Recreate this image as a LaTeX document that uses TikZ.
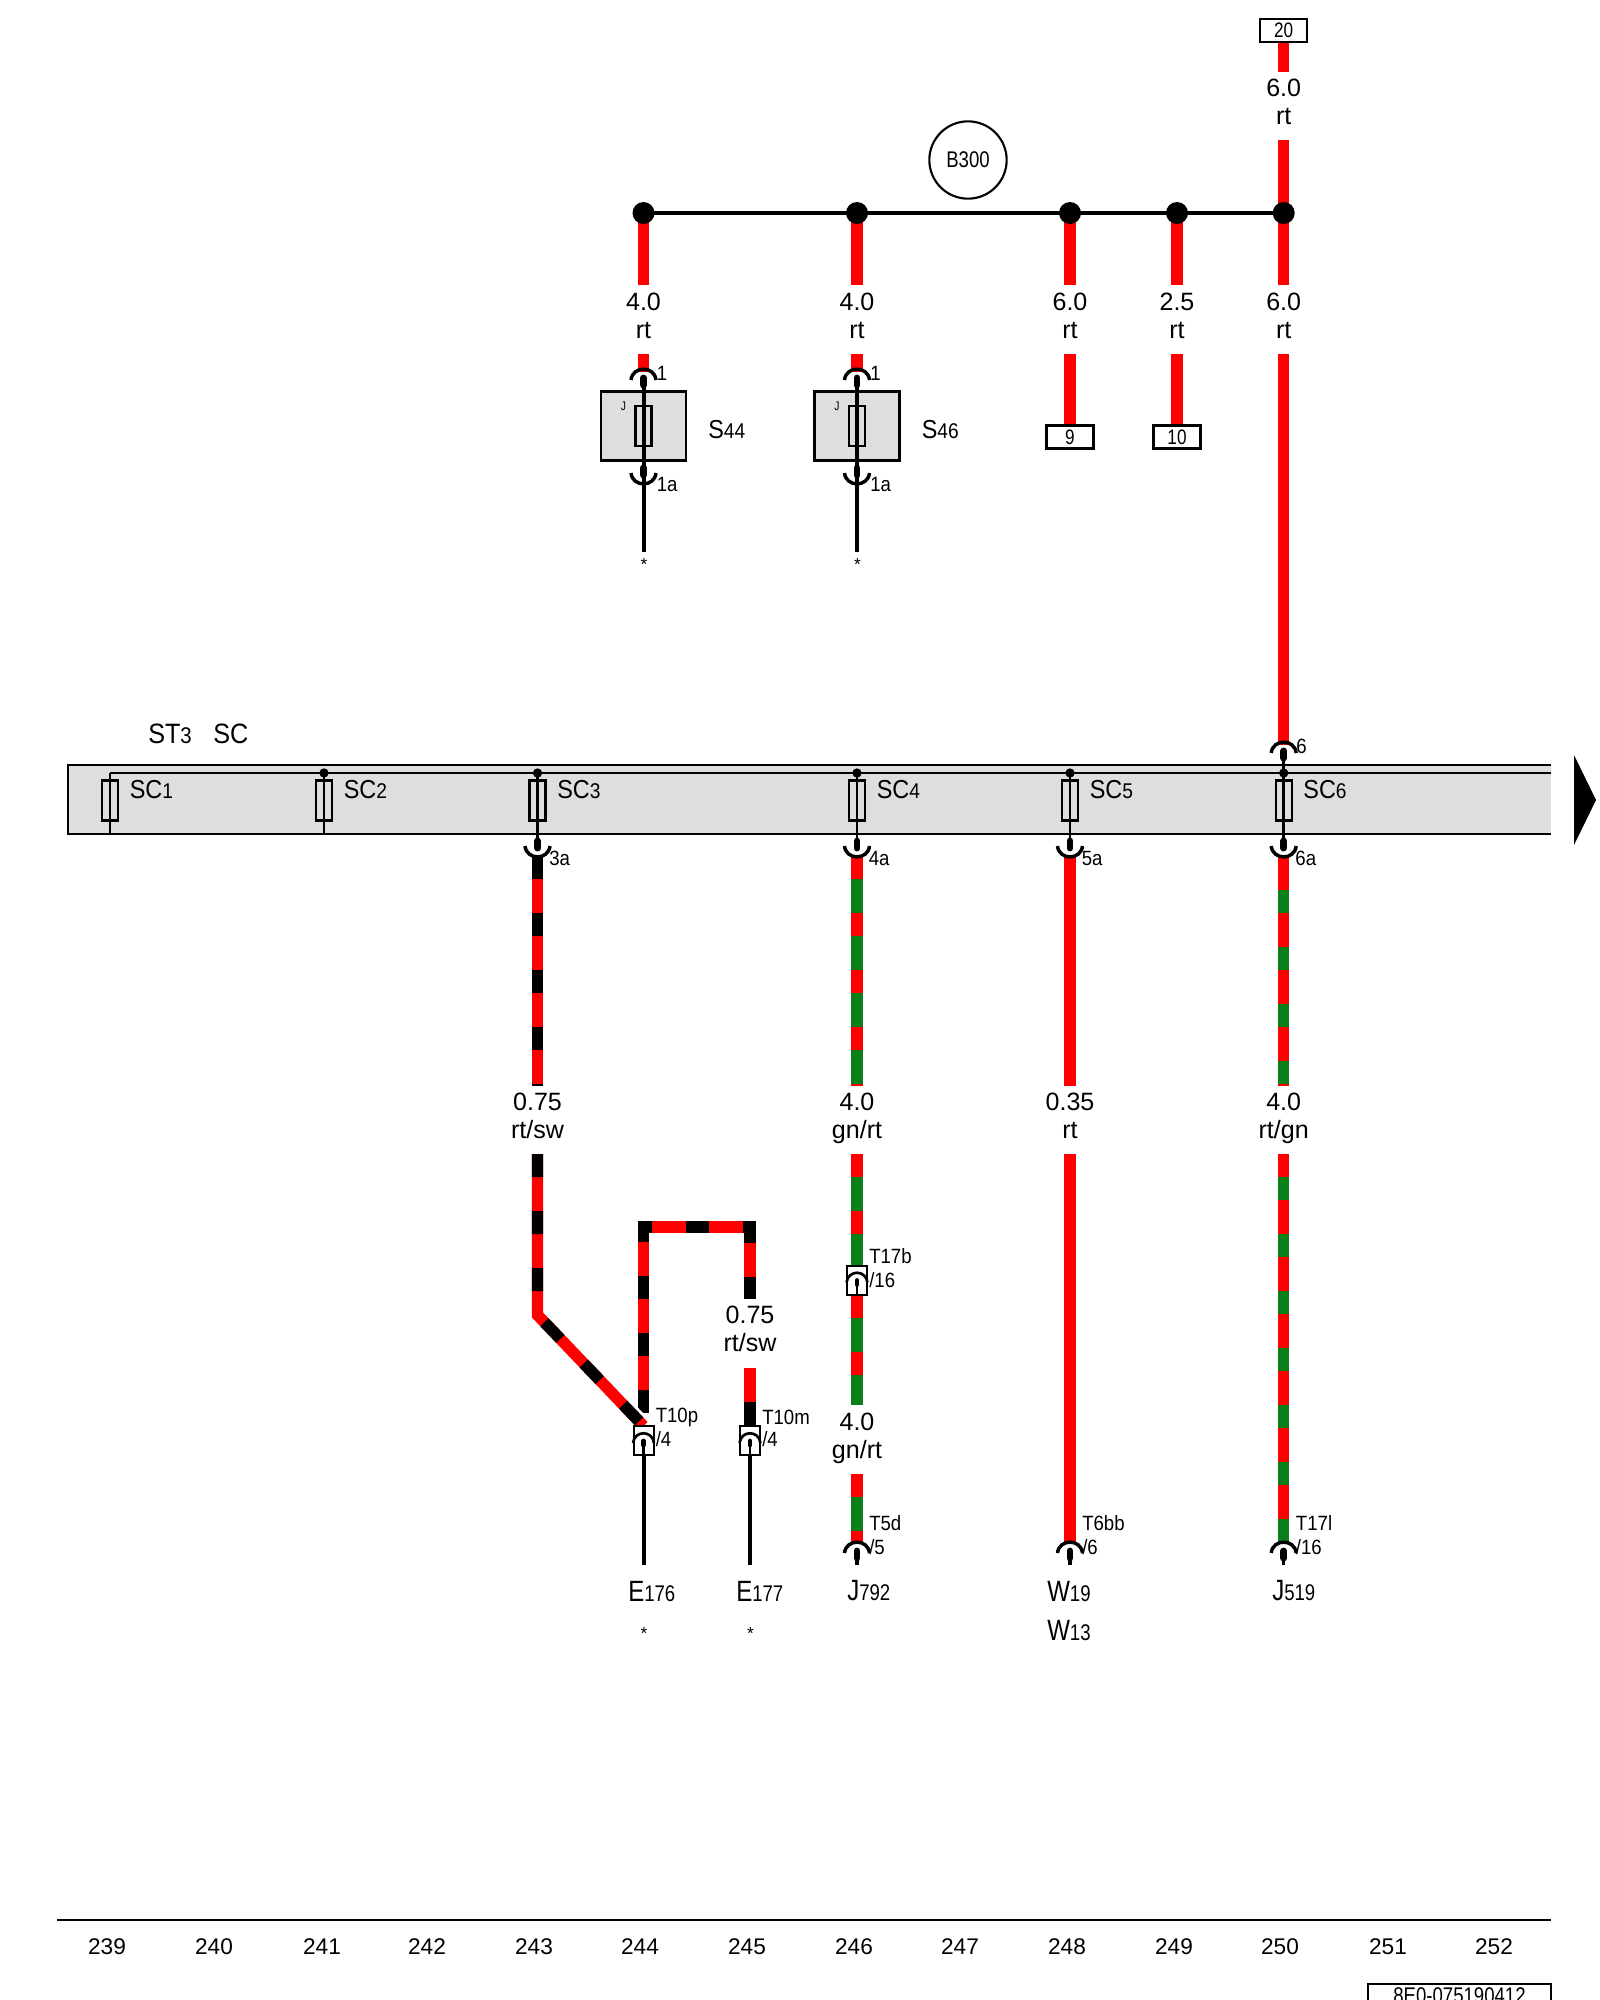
\documentclass[tikz,border=0pt]{standalone}
\usepackage{fontspec}
\usetikzlibrary{calc}
\setmainfont{Liberation Sans}
\newfontfamily\nar[FakeStretch=0.82]{Liberation Sans}
\newfontfamily\narb[FakeStretch=0.9]{Liberation Sans}
\newcommand{\code}[2]{{\narb\fontsize{19.5}{21}\selectfont #1\fontsize{16}{18}\selectfont #2}}
\newcommand{\topcode}[2]{{\narb\fontsize{21}{23}\selectfont #1\fontsize{17}{19}\selectfont #2}}
\newcommand{\bigcode}[2]{{\nar\fontsize{22}{24}\selectfont #1\fontsize{17}{19}\selectfont #2}}
\definecolor{bargray}{HTML}{DEDEDE}
\definecolor{wgreen}{HTML}{0A801A}
\definecolor{wred}{HTML}{FF0000}
\tikzset{
  thick wire/.style={line width=8.6pt},
  redw/.style={thick wire,draw=wred},
  greenw/.style={thick wire,draw=wgreen},
  stripe/.style={thick wire,dash pattern=on 17.25pt off 25.5pt},
  thinw/.style={line width=3pt,draw=black},
  gauge/.style={anchor=base,inner sep=0pt,font=\fontsize{18.8}{20}\selectfont},
  small/.style={anchor=west,inner sep=0pt,font=\narb\fontsize{15.5}{17}\selectfont},
  name lab/.style={anchor=west,inner sep=0pt},
  star/.style={inner sep=0pt,font=\fontsize{13}{14}\selectfont},
  fuse/.style={draw,line width=1.7pt,minimum width=12pt,minimum height=30pt,inner sep=0pt},
  term/.style={draw,line width=1.7pt,fill=white,minimum width=35.25pt,minimum height=17.25pt,inner sep=0pt,font=\nar\fontsize{15.7}{17}\selectfont},
  tbox/.style={draw,line width=1.5pt,fill=white,minimum width=15pt,minimum height=21.75pt,inner sep=0pt},
  sbox/.style={draw,line width=1.7pt,fill=bargray,minimum width=63.75pt,minimum height=51.75pt,inner sep=0pt},
  joint/.style={circle,fill=black,minimum size=16.5pt,inner sep=0pt},
  smalljoint/.style={circle,fill=black,minimum size=7pt,inner sep=0pt},
  plugup/.pic={
    \draw[line width=2.6pt] (-12.5,11) .. controls (-11,-3.5) and (11,-3.5) .. (12.5,11);
    \draw[line width=5.2pt,line cap=round] (0,9) -- (0,16);
  },
  plugdown/.pic={
    \draw[line width=2.6pt] (-12.5,-11) .. controls (-11,3.5) and (11,3.5) .. (12.5,-11);
    \draw[line width=5.2pt,line cap=round] (0,-9) -- (0,-16);
  },
  pluginner/.pic={
    \draw[line width=2pt] (-10.5,10) .. controls (-9,-3) and (9,-3) .. (10.5,10);
    \draw[line width=3.6pt,line cap=round] (0,8) -- (0,12);
  }
}
\begin{document}
\begin{tikzpicture}[x=0.75pt,y=-0.75pt]
\useasboundingbox (0,0) rectangle (1600,2000);
\clip (0,0) rectangle (1600,2000);
% ---- bar
\node[fill=bargray,minimum width=1112.25pt,minimum height=51.75pt,inner sep=0pt] (bar) at (809.5,799.5) {};
\draw[line width=1.6pt] (bar.north east) -- (bar.north west) -- (bar.south west) -- (bar.south east);
\coordinate (railL) at (110,773);
\coordinate (railR) at (1551,773);
\draw[line width=2pt] (railR) -- (railL);
\node[anchor=base west,inner sep=0pt] (st) at (148,743) {\topcode{ST}{3}};
\node[anchor=base west,inner sep=0pt] (sc) at (213,743) {\topcode{SC}{}};
% ---- thick wires, upper part
\coordinate (t20) at (1283.7,42);
\coordinate (t20b) at (1283.7,72);
\coordinate (t20c) at (1283.7,140);
\coordinate (bus1) at (643.5,213); \coordinate (bus2) at (857,213); \coordinate (bus3) at (1070,213);
\coordinate (bus4) at (1177,213); \coordinate (bus5) at (1283.7,213);
\draw[redw] (t20) -- (t20b);
\draw[redw] (t20c) -- (bus5);
\foreach \n/\x in {1/643.5,2/857,3/1070,4/1177,5/1283.7}{
  \coordinate (dn\n) at (\x,285);
  \draw[redw] (bus\n) -- (dn\n);
}
\coordinate (up1) at (643.5,354); \coordinate (up1b) at (643.5,372);
\coordinate (up2) at (857,354); \coordinate (up2b) at (857,372);
\coordinate (up3) at (1070,354); \coordinate (up3b) at (1070,425);
\coordinate (up4) at (1177,354); \coordinate (up4b) at (1177,425);
\coordinate (up5) at (1283.7,354); \coordinate (up5b) at (1283.7,745);
\foreach \n in {1,...,5}{\draw[redw] (up\n) -- (up\n b);}
\draw[line width=2.6pt] (bus1) -- (bus5);
\foreach \n in {1,...,5}{\node[joint] (j\n) at (bus\n) {};}
\node[draw,circle,line width=1.6pt,minimum size=58pt,inner sep=0pt,font=\nar\fontsize{17}{19}\selectfont] (b300) at (968,160) {B300};
\node[term] (tw) at (1283.7,30.5) {20};
\node[term] (tn) at (1070,437) {9};
\node[term] (tt) at (1177,437) {10};
% ---- fuses S44, S46
\foreach \x/\a/\b/\lab in {643.5/1/S/44,857/2/S/46}{
  \node[sbox] (sb\a) at (\x,426) {};
  \node[fuse,minimum height=30pt] (sf\a) at (\x,426) {};
  \coordinate (sin\a) at (\x,387);
  \coordinate (sout\a) at (\x,552);
  \draw[thinw] (sin\a) -- (sout\a);
  \pic at (\x,369) {plugup};
  \pic at (\x,484) {plugdown};
  \node[small] (pa\a) at (\x+13,373) {1};
  \node[small] (pb\a) at (\x+13,484) {1a};
  \node[name lab,inner sep=0pt,font=\nar\fontsize{9.4}{10}\selectfont] (jj\a) at (\x-23,406) {J};
  \node[star] (st\a) at (\x+0.5,565) {*};
  \node[name lab] (sl\a) at (\x+64.5,430) {\code{\b}{\lab}};
}
% ---- SC fuses
\foreach \n/\x in {1/110,2/324,3/537.5,4/857,5/1070,6/1283.7}{
  \node[fuse,fill=none] (f\n) at (\x,800.5) {};
  \coordinate (fa\n) at (\x,773);
  \coordinate (fb\n) at (\x,834);
  \draw[line width=2pt] (fa\n) -- (fb\n);
  \node[name lab] (fl\n) at (\x+19.5,790) {\code{SC}{\n}};
}
\foreach \n in {2,...,6}{\node[smalljoint] (d\n) at (fa\n) {};}
\coordinate (p6) at (1283.7,757);
\draw[line width=2pt] (p6) -- (fa6);
\foreach \n in {3,...,6}{\draw[line width=2pt] (fb\n) -- ++(0,8);}
% ---- columns below bar, upper stretch
\coordinate (a3) at (537.5,856); \coordinate (a3e) at (537.5,1086);
\coordinate (a4) at (857,856);   \coordinate (a4e) at (857,1086);
\coordinate (a5) at (1070,856);  \coordinate (a5e) at (1070,1086);
\coordinate (a6) at (1283.7,856);\coordinate (a6e) at (1283.7,1086);
\draw[redw] (a3) -- (a3e);
\draw[stripe,draw=black] (a3) -- (a3e);
\draw[greenw] (a4) -- (a4e);
\draw[stripe,draw=wred] (a4) -- (a4e);
\draw[redw] (a5) -- (a5e);
\draw[redw] (a6) -- (a6e);
\draw[stripe,draw=wgreen,dash phase=17.25pt] (a6) -- (a6e);
% ---- lower stretch
\coordinate (l3) at (537.5,1154); \coordinate (l3k) at (537.5,1315); \coordinate (l3e) at (643.5,1426);
\coordinate (r1) at (643.5,1413); \coordinate (r2) at (643.5,1227); \coordinate (r3) at (750,1227); \coordinate (r4) at (750,1299);
\coordinate (m1) at (750,1368); \coordinate (m2) at (750,1402); \coordinate (m3) at (750,1426);
% loop wire
\draw[redw,line join=miter] (r1) -- (r2) -- (r3) -- (r4);
\draw[stripe,draw=black,line join=miter] (r1) -- (r2) -- (r3) -- (r4);
% diagonal with white halo
\draw[line width=13pt,draw=white] ($(l3k)!0.72!(l3e)$) -- (l3e);
\draw[redw,line join=miter] (l3) -- (l3k) -- (l3e);
\draw[stripe,draw=black,line join=miter] (l3) -- (l3k) -- (l3e);
% T10m feed
\draw[redw] (m1) -- (m2);
\draw[thick wire,draw=black] (m2) -- (m3);
% col 857 lower
\coordinate (g1) at (857,1154); \coordinate (g2) at (857,1265);
\coordinate (g3) at (857,1295); \coordinate (g4) at (857,1405);
\coordinate (g5) at (857,1474); \coordinate (g6) at (857,1544);
\foreach \p/\q in {g1/g2,g3/g4,g5/g6}{
  \draw[greenw] (\p) -- (\q);
  \draw[stripe,draw=wred] (\p) -- (\q);
}
% col 1070 lower
\coordinate (h1) at (1070,1154); \coordinate (h2) at (1070,1544);
\draw[redw] (h1) -- (h2);
% col 1283 lower
\coordinate (k1) at (1283.7,1154); \coordinate (k2) at (1283.7,1544);
\draw[redw] (k1) -- (k2);
\draw[stripe,draw=wgreen,dash phase=25.5pt] (k1) -- (k2);
% ---- gauge labels
\foreach \x/\y/\a/\b [count=\i] in {
  1283.7/96.5/6.0/rt, 643.5/310.6/4.0/rt, 857/310.6/4.0/rt, 1070/310.6/6.0/rt, 1177/310.6/2.5/rt, 1283.7/310.6/6.0/rt,
  537.5/1110.5/0.75/{rt/sw}, 857/1110.5/4.0/{gn/rt}, 1070/1110.5/0.35/rt, 1283.7/1110.5/4.0/{rt/gn},
  750/1323.5/0.75/{rt/sw}, 857/1430.5/4.0/{gn/rt}}{
  \node[gauge] (ga\i) at (\x,\y) {\a};
  \node[gauge] (gb\i) at (\x,\y+27.5) {\b};
}
% ---- plugs at bar and below
\pic at (1283.7,742) {plugup};
\node[small] (l6) at (1296,746) {6};
\foreach \x/\t [count=\i from 3] in {537.5/3a,857/4a,1070/5a,1283.7/6a}{
  \pic at (\x,857) {plugdown};
  \node[small] (la\i) at (\x+11.5,858) {\t};
}
% ---- lower terminals
\foreach \x/\ta/\tb [count=\i] in {857/T5d/5,1070/T6bb/6,1283.7/T17l/16}{
  \pic at (\x,1542) {plugup};
  \coordinate (e\i) at (\x,1565);
  \draw[line width=2.4pt] (\x,1556) -- (e\i);
  \node[small] (ta\i) at (\x+12,1523) {\ta};
  \node[small] (tb\i) at (\x+12,1547) {/\tb};
}
% ---- inline boxes
\foreach \x/\y/\ta/\tb/\ya/\yb [count=\i] in {643.5/1440.5/T10p/4/1417/1439,750/1440.5/T10m/4/1417/1439,857/1280/T17b/16/1256/1280}{
  \node[tbox] (x\i) at (\x,\y) {};
  \pic at (\x,\y-7.5) {pluginner};
  \draw[line width=1.8pt] (\x,\y+2) -- (x\i.south);
  \node[small] (xa\i) at (\x+12,\ya) {\ta};
  \node[small] (xb\i) at (\x+12,\yb) {/\tb};
}
\coordinate (ee1) at (643.5,1565); \coordinate (ee2) at (750,1565);
\draw[thinw] (x1.south) -- (ee1);
\draw[thinw] (x2.south) -- (ee2);
% ---- component names
\node[name lab] (n1) at (628,1591) {\bigcode{E}{176}};
\node[name lab] (n2) at (736,1591) {\bigcode{E}{177}};
\node[name lab] (n3) at (847,1591) {\bigcode{J}{792}};
\node[name lab] (n4) at (1047,1591) {\bigcode{W}{19}};
\node[name lab] (n5) at (1047,1630) {\bigcode{W}{13}};
\node[name lab] (n6) at (1272,1591) {\bigcode{J}{519}};
\node[star] (s1) at (644,1633.5) {*};
\node[star] (s2) at (750.5,1633.5) {*};
% ---- arrow
\fill (1574,755) -- (1596,800) -- (1574,845) -- cycle;
% ---- scale
\coordinate (sl) at (57,1920); \coordinate (sr) at (1551,1920);
\draw[line width=1.9pt] (sl) -- (sr);
\foreach \x/\n in {107/239,214/240,322/241,427/242,534/243,640/244,747/245,854/246,960/247,1067/248,1174/249,1280/250,1388/251,1494/252}{
  \node[anchor=base,inner sep=0pt,font=\fontsize{17}{19}\selectfont] (sc\n) at (\x,1954.5) {\n};
}
\node[draw,line width=1.7pt,minimum width=137.25pt,minimum height=30pt,inner sep=0pt] (pn) at (1459.5,2004) {};
\node[anchor=base,inner sep=0pt,font=\nar\fontsize{17}{18}\selectfont] (pnt) at (1459.5,2003) {8E0-075190412};
\end{tikzpicture}
\end{document}
